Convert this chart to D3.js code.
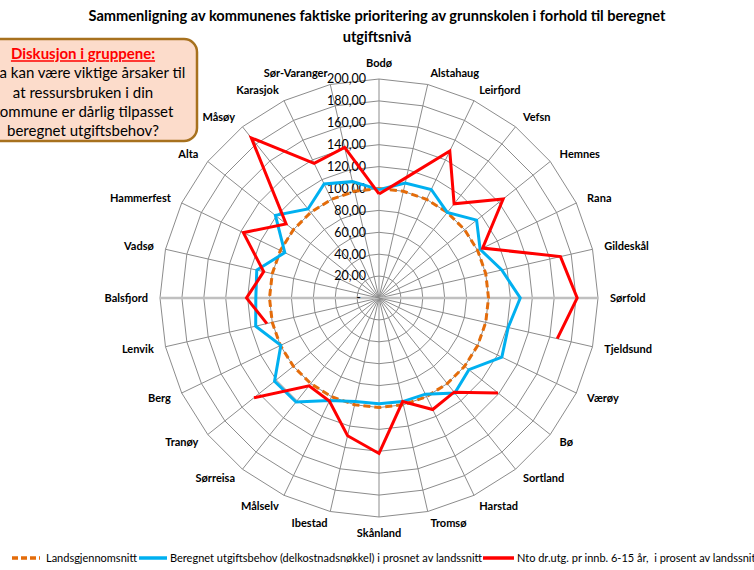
<!DOCTYPE html>
<html>
<head>
<meta charset="utf-8">
<script src="https://cdn.jsdelivr.net/npm/d3@7"></script>
<style>
    body { margin: 0; background: #ffffff; }
    text { font-family: Lato, "Open Sans", sans-serif; }
</style>
</head>
<body>
<svg id="svgRadar" width="754" height="570"></svg>
<script>

// Municipalities, clockwise from the top
var categories = ["Bodø", "Alstahaug", "Leirfjord", "Vefsn", "Hemnes", "Rana", "Gildeskål",
    "Sørfold", "Tjeldsund", "Værøy", "Bø", "Sortland", "Harstad", "Tromsø", "Skånland",
    "Ibestad", "Målselv", "Sørreisa", "Tranøy", "Berg", "Lenvik", "Balsfjord", "Vadsø",
    "Hammerfest", "Alta", "Måsøy", "Karasjok", "Sør-Varanger"];

// National average (landsgjennomsnitt)
var nationalAverage = [100, 100, 100, 100, 100, 100, 100, 100, 100, 100, 100, 100, 100, 100,
    100, 100, 100, 100, 100, 100, 100, 100, 100, 100, 100, 100, 100, 100];

// Calculated expenditure need in percent of national average
var expenditureNeed = [99, 107.6, 110, 100, 114, 102.5, 115, 129, 121, 124.5, 105, 111, 97.5, 97,
    96.5, 97, 104, 121.5, 122, 99.5, 115.5, 112.5, 114.5, 95.5, 121, 104, 115.5, 109];

// Net expenditure per inhabitant 6-15 years in percent of national average (null = no value)
var netExpenditure = [95, 113, 149, 110, 145, 105, 170, 181, 167, null, 139, 110, 113, 97,
    142, 129, 104.5, 102.5, 146, null, 105, 121, 108, 137.5, 108.5, 187, 136.5, 141];

var tickValues = [0, 20, 40, 60, 80, 100, 120, 140, 160, 180, 200];
var tickLabels = ["-", "20,00", "40,00", "60,00", "80,00", "100,00", "120,00", "140,00",
    "160,00", "180,00", "200,00"];

var legendLabels = ["Landsgjennomsnitt",
    "Beregnet utgiftsbehov (delkostnadsnøkkel) i prosnet av landssnitt",
    "Nto dr.utg. pr innb. 6-15 år,  i prosent av landssnitt"];

var center = { x: 379, y: 298 };
var outerRadius = 219;
var gridColor = "#8c8c8c";

var svg = d3.select("#svgRadar");

// Scales: value -> radius, index -> angle (0 at top, clockwise)
var rScale = d3.scaleLinear()
    .domain([0, 200])
    .range([0, outerRadius]);

var angleScale = d3.scaleLinear()
    .domain([0, categories.length])
    .range([0, 2 * Math.PI]);

function point(i, value) {
    var a = angleScale(i);
    return [center.x + rScale(value) * Math.sin(a), center.y - rScale(value) * Math.cos(a)];
}

var chart = svg.append("g")
    .attr("transform", `translate(${center.x}, ${center.y})`);

// Draw the polygon rings
var ringLine = d3.lineRadial()
    .angle(function(d) { return angleScale(d.i); })
    .radius(function(d) { return rScale(d.v); })
    .curve(d3.curveLinearClosed);

chart.selectAll(".ring")
    .data(tickValues.slice(1))
    .enter()
    .append("path")
        .attr("class", "ring")
        .attr("d", function(v) {
            return ringLine(categories.map(function(c, i) { return { i: i, v: v }; }));
        })
        .attr("fill", "none")
        .attr("stroke", gridColor)
        .attr("stroke-width", 1);

// Draw the spokes (the horizontal one is lighter and thicker)
chart.selectAll(".spoke")
    .data(categories)
    .enter()
    .append("line")
        .attr("class", "spoke")
        .attr("x1", 0)
        .attr("y1", 0)
        .attr("x2", function(c, i) { return point(i, 200)[0] - center.x; })
        .attr("y2", function(c, i) { return point(i, 200)[1] - center.y; })
        .attr("stroke", function(c, i) { return (i % 7 === 0 && i % 14 !== 0) ? "#c0c0c0" : gridColor; })
        .attr("stroke-width", function(c, i) { return (i % 7 === 0 && i % 14 !== 0) ? 2.5 : 1; });

// Radial axis labels along the top spoke
chart.selectAll(".tick-label")
    .data(tickValues)
    .enter()
    .append("text")
        .attr("class", "tick-label")
        .attr("x", function(v, i) { return i === 0 ? -18 : -13; })
        .attr("y", function(v) { return -rScale(v); })
        .attr("dy", "0.35em")
        .attr("text-anchor", "end")
        .attr("font-size", "12.5px")
        .attr("fill", "#000")
        .text(function(v, i) { return tickLabels[i]; });

// Series lines
var seriesLine = d3.lineRadial()
    .defined(function(d) { return d.v !== null; })
    .angle(function(d) { return angleScale(d.i); })
    .radius(function(d) { return rScale(d.v); });

function closedData(values) {
    var data = values.map(function(v, i) { return { i: i, v: v }; });
    data.push({ i: values.length, v: values[0] });
    return data;
}

chart.append("path")
    .attr("d", seriesLine(closedData(nationalAverage)))
    .attr("fill", "none")
    .attr("stroke", "#E46C0A")
    .attr("stroke-width", 3)
    .attr("stroke-dasharray", "7,4");

chart.append("path")
    .attr("d", seriesLine(closedData(expenditureNeed)))
    .attr("fill", "none")
    .attr("stroke", "#00B0F0")
    .attr("stroke-width", 3);

chart.append("path")
    .attr("d", seriesLine(closedData(netExpenditure)))
    .attr("fill", "none")
    .attr("stroke", "#FF0000")
    .attr("stroke-width", 3);

// Category labels around the chart
chart.selectAll(".category")
    .data(categories)
    .enter()
    .append("text")
        .attr("class", "category")
        .attr("x", function(c, i) { return point(i, 200)[0] - center.x + 12 * Math.sin(angleScale(i)); })
        .attr("y", function(c, i) {
            var a = angleScale(i);
            var y = point(i, 200)[1] - center.y - 12 * Math.cos(a);
            return y - 4 * Math.cos(a) * (Math.abs(Math.sin(a)) < 0.01 ? 1 : 0);
        })
        .attr("dy", "0.35em")
        .attr("text-anchor", function(c, i) {
            var s = Math.sin(angleScale(i));
            return Math.abs(s) < 0.01 ? "middle" : (s > 0 ? "start" : "end");
        })
        .attr("font-size", "11px")
        .attr("font-weight", "bold")
        .attr("fill", "#000")
        .text(function(c) { return c; });

// Title
var title = svg.append("text")
    .attr("x", 377)
    .attr("y", 21)
    .attr("text-anchor", "middle")
    .attr("font-size", "14.6px")
    .attr("font-weight", "bold");
title.append("tspan")
    .attr("x", 377)
    .text("Sammenligning av kommunenes faktiske prioritering av grunnskolen i forhold til beregnet");
title.append("tspan")
    .attr("x", 377)
    .attr("dy", 21)
    .text("utgiftsnivå");

// Discussion box in the upper left corner
var box = svg.append("g").attr("class", "discussion");
box.append("rect")
    .attr("x", -32)
    .attr("y", 39)
    .attr("width", 229)
    .attr("height", 102)
    .attr("rx", 13)
    .attr("fill", "#FCDCCB")
    .attr("stroke", "#A7711E")
    .attr("stroke-width", 2.5);

var boxLines = ["Hva kan være viktige årsaker til", "at ressursbruken i din",
    "kommune er dårlig tilpasset", "beregnet utgiftsbehov?"];

box.append("text")
    .attr("x", 83)
    .attr("y", 54)
    .attr("dy", "0.35em")
    .attr("text-anchor", "middle")
    .attr("font-size", "15px")
    .attr("font-weight", "bold")
    .attr("fill", "#FF0000")
    .attr("text-decoration", "underline")
    .text("Diskusjon i gruppene:");

box.selectAll(".box-line")
    .data(boxLines)
    .enter()
    .append("text")
        .attr("class", "box-line")
        .attr("x", 83)
        .attr("y", function(d, i) { return 73 + i * 19.3; })
        .attr("dy", "0.35em")
        .attr("text-anchor", "middle")
        .attr("font-size", "15px")
        .attr("fill", "#000")
        .text(function(d) { return d; });

// Legend
var legendItems = [
    { x: 12, len: 28, color: "#E46C0A", dash: "6,3", textX: 46 },
    { x: 139, len: 28, color: "#00B0F0", dash: null, textX: 170 },
    { x: 483, len: 31, color: "#FF0000", dash: null, textX: 517 }
];

var legend = svg.append("g")
    .attr("class", "legend")
    .attr("transform", "translate(0, 558)");

legendItems.forEach(function(item, i) {
    legend.append("line")
        .attr("x1", item.x)
        .attr("x2", item.x + item.len)
        .attr("y1", 0)
        .attr("y2", 0)
        .attr("stroke", item.color)
        .attr("stroke-width", 3.5)
        .attr("stroke-dasharray", item.dash);
    legend.append("text")
        .attr("x", item.textX)
        .attr("y", 0)
        .attr("dy", "0.35em")
        .attr("font-size", "11px")
        .attr("fill", "#000")
        .style("white-space", "pre")
        .text(legendLabels[i]);
});

</script>
</body>
</html>
